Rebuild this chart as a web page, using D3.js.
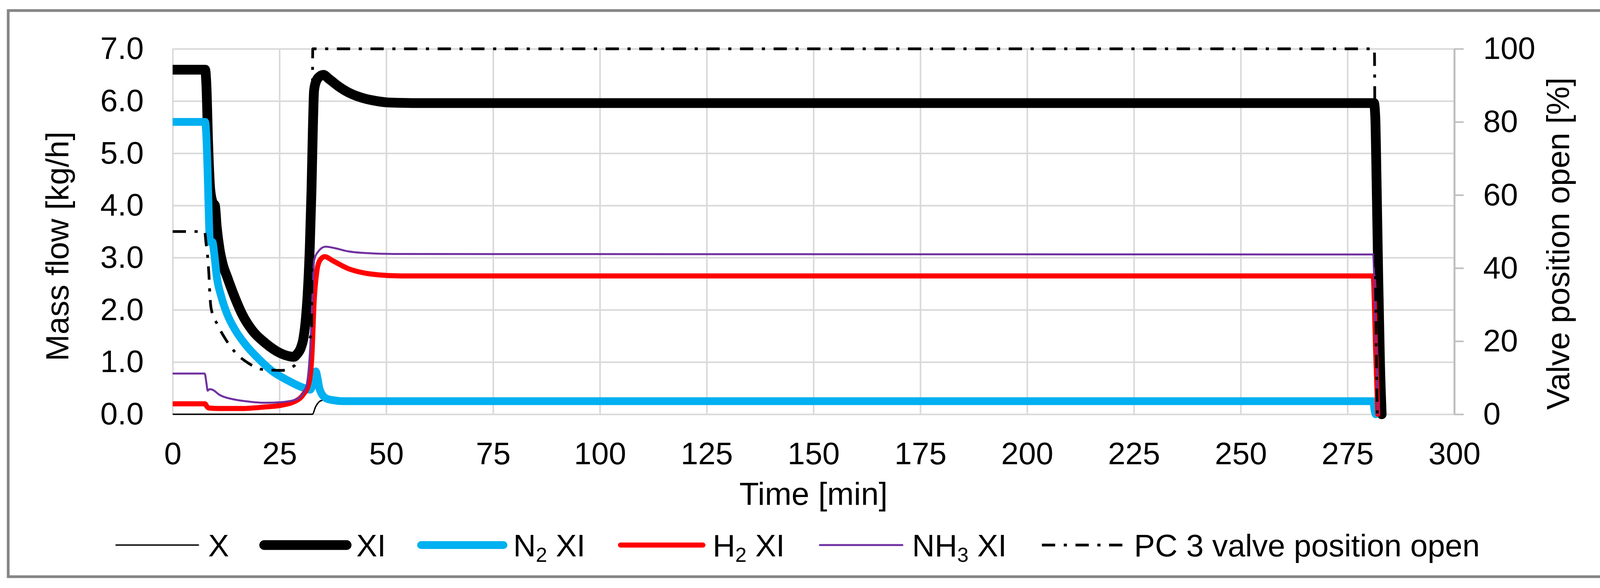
<!DOCTYPE html>
<html>
<head>
<meta charset="utf-8">
<script src="https://cdn.jsdelivr.net/npm/d3@7"></script>
<style>
  body { margin: 0; background: #fff; }
  text { font-family: "Liberation Sans", Arial, sans-serif; fill: #000; }
</style>
</head>
<body>
<svg id="chart" width="4161" height="1506"></svg>
<script>
// [time (min), mass flow (kg/h)]
var seriesX = [[0,0],[32.7,0],[33.5,0.15],[34.7,0.26],[37,0.29],[281,0.29],[281.5,0]];

var seriesXI = [[0,6.6],[7.6,6.6],[7.9,6.3],[8.3,5.2],[8.8,4.3],[9.4,4.05],[9.9,4.0],[10.3,3.6],
  [11,3.15],[11.7,2.88],[12.8,2.62],[14.2,2.31],[16.3,1.91],[18.8,1.59],[21.6,1.37],[25.2,1.17],
  [27.3,1.11],[28.4,1.1],[29.1,1.15],[30,1.27],[30.6,1.45],[31.2,1.85],[31.6,2.3],[32.1,3.2],
  [32.5,4.3],[32.8,5.4],[33.1,6.2],[33.6,6.38],[34.4,6.47],[35.3,6.5],[36.5,6.43],[38.5,6.3],
  [41,6.17],[44,6.07],[47,6.01],[51,5.97],[60,5.96],[281.2,5.96],[281.5,5.7],[281.8,4.5],
  [282.2,2.6],[282.6,1.0],[283,0]];

var seriesN2 = [[0,5.6],[7.6,5.6],[7.9,5.3],[8.2,4.6],[8.5,3.7],[8.7,3.3],[9.3,3.3],[9.7,3.1],
  [10.3,2.65],[11.4,2.25],[12.8,1.91],[14.6,1.62],[17,1.34],[19.9,1.08],[23.4,0.82],[26.9,0.65],
  [30.5,0.51],[32.2,0.47],[33.0,0.65],[33.5,0.82],[34.0,0.65],[34.4,0.48],[35.8,0.31],[37.5,0.27],
  [40,0.25],[281,0.25],[281.4,0.05],[281.6,0]];

var seriesH2 = [[0,0.2],[7.6,0.2],[8.0,0.15],[8.5,0.12],[11,0.11],[16.3,0.11],[21.6,0.14],
  [25.2,0.17],[28.7,0.25],[30.5,0.37],[31.9,0.6],[32.6,1.14],[33.1,2.14],[33.7,2.71],[34.4,2.94],
  [35.6,3.02],[37.5,2.94],[41.1,2.79],[44.6,2.71],[48.2,2.67],[53.5,2.65],[281,2.65],[281.6,1.2],
  [282.1,0]];

var seriesNH3 = [[0,0.78],[7.5,0.78],[7.9,0.6],[8.2,0.45],[8.6,0.48],[9.3,0.47],[11,0.37],
  [14.6,0.28],[18.1,0.24],[21.6,0.22],[25.2,0.23],[28.7,0.28],[30.5,0.39],[31.5,0.62],[32.2,1.28],
  [32.8,2.42],[33.1,2.94],[34,3.11],[35.8,3.21],[37.5,3.19],[41.1,3.12],[44.6,3.09],[51.7,3.07],
  [281,3.06],[281.5,1.8],[282.2,0]];

// [time (min), valve position open (%)]
var seriesValve = [[0,50],[7.5,50],[7.8,47],[8.2,43],[8.5,38],[8.7,33],[9.0,29],[10.5,24.5],
  [12.3,20.7],[14.6,17],[17.7,14],[21.3,12.2],[25.5,12],[28.4,13.2],[29.5,15.5],[31,19],
  [32.5,22],[32.8,100],[281.3,100],[281.5,50],[282,0]];

var xTicks = [0,25,50,75,100,125,150,175,200,225,250,275,300];
var yTicks = [0,1,2,3,4,5,6,7];
var y2Ticks = [0,20,40,60,80,100];

// legend names: [main text, subscript, rest]
var legendNames = [["X","",""],["XI","",""],["N","2"," XI"],["H","2"," XI"],["NH","3"," XI"],
  ["PC 3 valve position open","",""]];

var plot = {left: 442, right: 3723, top: 125, bottom: 1061};
var fs = 80;

var svg = d3.select("#chart");

// outer frame
svg.append("rect")
  .attr("x", 21).attr("y", 27)
  .attr("width", 4113).attr("height", 1450)
  .attr("fill", "#fff")
  .attr("stroke", "#858585")
  .attr("stroke-width", 7);

var x = d3.scaleLinear().domain([0, 300]).range([plot.left, plot.right]);
var y = d3.scaleLinear().domain([0, 7]).range([plot.bottom, plot.top]);
var y2 = d3.scaleLinear().domain([0, 100]).range([plot.bottom, plot.top]);

// gridlines
var gx = svg.append("g")
  .attr("transform", "translate(0," + plot.bottom + ")")
  .call(d3.axisBottom(x).tickValues(xTicks).tickSize(-(plot.bottom - plot.top)).tickFormat(""));
gx.select(".domain").remove();
gx.selectAll("line").attr("stroke", "#d9d9d9").attr("stroke-width", 4);

var gy = svg.append("g")
  .attr("transform", "translate(" + plot.left + ",0)")
  .call(d3.axisLeft(y).tickValues(yTicks).tickSize(-(plot.right - plot.left)).tickFormat(""));
gy.select(".domain").remove();
gy.selectAll("line").attr("stroke", "#d9d9d9").attr("stroke-width", 4);

// axis labels
var ax = svg.append("g")
  .attr("transform", "translate(0," + plot.bottom + ")")
  .call(d3.axisBottom(x).tickValues(xTicks).tickSize(0).tickPadding(71));
ax.select(".domain").remove();
ax.selectAll("text").attr("font-size", fs).attr("font-family", null);

var ay = svg.append("g")
  .attr("transform", "translate(" + plot.left + ",0)")
  .call(d3.axisLeft(y).tickValues(yTicks).tickSize(0).tickPadding(74).tickFormat(d3.format(".1f")));
ay.select(".domain").remove();
ay.selectAll("text").attr("font-size", fs).attr("font-family", null);

var ay2 = svg.append("g")
  .attr("transform", "translate(" + plot.right + ",0)")
  .call(d3.axisRight(y2).tickValues(y2Ticks).tickSize(24).tickPadding(50).tickSizeOuter(0));
ay2.select(".domain").attr("stroke", "#bfbfbf").attr("stroke-width", 5);
ay2.selectAll("line").attr("stroke", "#bfbfbf").attr("stroke-width", 4);
ay2.selectAll("text").attr("font-size", fs).attr("font-family", null);

// axis titles
svg.append("text")
  .attr("transform", "translate(175,631) rotate(-90)")
  .attr("text-anchor", "middle")
  .attr("font-size", 82)
  .text("Mass flow [kg/h]");

svg.append("text")
  .attr("transform", "translate(4017,624) rotate(-90)")
  .attr("text-anchor", "middle")
  .attr("font-size", 82)
  .text("Valve position open [%]");

svg.append("text")
  .attr("x", (plot.left + plot.right) / 2)
  .attr("y", 1293)
  .attr("text-anchor", "middle")
  .attr("font-size", 82)
  .text("Time [min]");

// series
svg.append("defs").append("clipPath").attr("id", "clip")
  .append("rect")
  .attr("x", plot.left).attr("y", 0)
  .attr("width", 3400).attr("height", 1200);

var line = d3.line()
  .x(d => x(d[0]))
  .y(d => y(d[1]))
  .curve(d3.curveMonotoneX);

var line2 = d3.line()
  .x(d => x(d[0]))
  .y(d => y2(d[1]))
  .curve(d3.curveMonotoneX);

var styles = [
  {color: "#000000", width: 3.5, dash: null},
  {color: "#000000", width: 25, dash: null},
  {color: "#00b0f0", width: 20, dash: null},
  {color: "#ff0000", width: 13, dash: null},
  {color: "#7030a0", width: 5, dash: null},
  {color: "#000000", width: 7, dash: "34,22,8,22"}
];

var lines = svg.append("g").attr("clip-path", "url(#clip)");
var allSeries = [seriesX, seriesXI, seriesN2, seriesH2, seriesNH3];

lines.selectAll("path.flow")
  .data(allSeries)
  .enter()
  .append("path")
  .attr("class", "flow")
  .attr("d", line)
  .attr("fill", "none")
  .attr("stroke", (d, i) => styles[i].color)
  .attr("stroke-width", (d, i) => styles[i].width)
  .attr("stroke-linejoin", "round")
  .attr("stroke-linecap", "round");

lines.append("path")
  .datum(seriesValve)
  .attr("d", line2)
  .attr("fill", "none")
  .attr("stroke", styles[5].color)
  .attr("stroke-width", styles[5].width)
  .attr("stroke-dasharray", styles[5].dash)
  .attr("stroke-linejoin", "round");

// legend
var legend = svg.append("g");
var lx = 297, ly = 1396, segLen = 211;

legendNames.forEach(function(name, i) {
  var st = styles[i];
  legend.append("line")
    .attr("x1", lx).attr("x2", lx + segLen)
    .attr("y1", ly).attr("y2", ly)
    .attr("stroke", st.color)
    .attr("stroke-width", st.width)
    .attr("stroke-linecap", st.dash ? "butt" : "round")
    .attr("stroke-dasharray", st.dash);

  var t = legend.append("text")
    .attr("x", lx + segLen + 25)
    .attr("y", ly + 29)
    .attr("font-size", fs);
  t.append("tspan").text(name[0]);
  if (name[1]) {
    t.append("tspan").attr("font-size", 52).attr("dy", 14).text(name[1]);
    t.append("tspan").attr("dy", -14).text(name[2]);
  }
  var w = t.node().getComputedTextLength();
  lx = lx + segLen + 25 + w + 90;
});
</script>
</body>
</html>
